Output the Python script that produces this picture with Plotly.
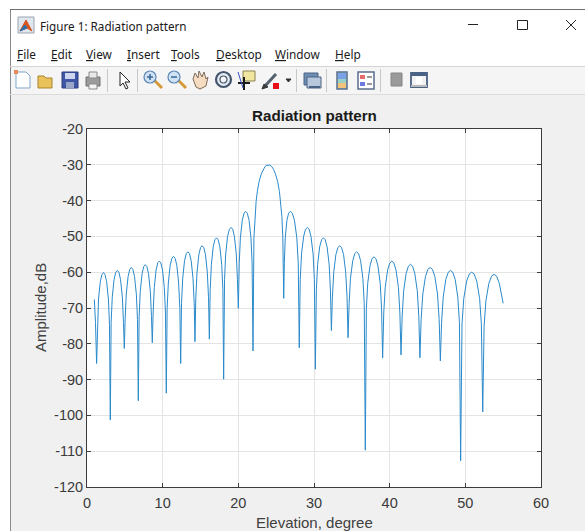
import plotly.graph_objects as go

# ---- data ----
elevation = [
 0.97, 1.12, 1.27,
 1.38,1.52,1.76,1.98,2.18,2.37,2.59,2.83,2.97, 3.08,
 3.19,3.34,3.58,3.80,4.00,4.21,4.43,4.67,4.82, 4.93,
 5.04,5.19,5.43,5.65,5.86,6.06,6.28,6.52,6.67, 6.78,
 6.89,7.04,7.28,7.50,7.70,7.91,8.13,8.37,8.52, 8.63,
 8.74,8.89,9.13,9.35,9.56,9.76,9.98,10.22,10.37, 10.48,
 10.59,10.75,10.99,11.22,11.43,11.64,11.87,12.11,12.27, 12.38,
 12.49,12.65,12.89,13.12,13.33,13.54,13.77,14.01,14.17, 14.27,
 14.38,14.54,14.78,15.01,15.22,15.43,15.66,15.90,16.06, 16.17,
 16.28,16.44,16.68,16.91,17.12,17.33,17.56,17.80,17.96, 18.06,
 18.18,18.33,18.58,18.82,19.05,19.26,19.48,19.73,19.88, 20.00,
 20.12,20.27,20.52,20.76,20.97,21.18,21.42,21.67,21.82, 21.94,
 22.06,22.18,22.35,22.51,22.75,23.04,23.28,23.52,23.77,23.97,24.17,24.42,24.66,24.90,25.19,25.43,25.59,25.76,25.88, 26.00,
 26.08,26.20,26.42,26.65,26.87,27.13,27.42,27.73,27.92, 28.05,
 28.18,28.35,28.63,28.88,29.12,29.35,29.60,29.88,30.05, 30.18,
 30.31,30.48,30.75,31.01,31.24,31.47,31.73,32.00,32.17, 32.30,
 32.43,32.61,32.89,33.16,33.40,33.64,33.91,34.19,34.37, 34.50,
 34.64,34.82,35.12,35.39,35.64,35.89,36.16,36.46,36.64, 36.78,
 36.92,37.10,37.40,37.67,37.93,38.18,38.45,38.75,38.93, 39.07,
 39.22,39.41,39.73,40.02,40.29,40.55,40.84,41.16,41.35, 41.50,
 41.65,41.85,42.18,42.48,42.75,43.02,43.32,43.65,43.85, 44.00,
 44.16,44.38,44.73,45.05,45.35,45.65,45.97,46.32,46.54, 46.70,
 46.86,47.08,47.42,47.75,48.04,48.33,48.66,49.00,49.22, 49.38,
 49.56,49.79,50.17,50.52,50.84,51.16,51.51,51.89,52.12, 52.30,
 52.48,52.72,53.11,53.47,53.80,54.13,54.49,54.80,55.00,
]
amplitude_db = [
 -67.6, -74.0, -85.5,
 -74.6,-67.5,-62.6,-60.6,-60.1,-60.6,-62.6,-67.5,-74.6, -101.3,
 -74.0,-66.9,-62.0,-60.0,-59.5,-60.0,-62.0,-66.9,-74.0, -81.3,
 -73.2,-66.1,-61.2,-59.2,-58.7,-59.2,-61.2,-66.1,-73.2, -95.9,
 -72.4,-65.3,-60.4,-58.4,-57.9,-58.4,-60.4,-65.3,-72.4, -79.7,
 -71.4,-64.3,-59.4,-57.4,-56.9,-57.4,-59.4,-64.3,-71.4, -93.8,
 -70.1,-63.0,-58.1,-56.1,-55.6,-56.1,-58.1,-63.0,-70.1, -85.5,
 -68.8,-61.7,-56.8,-54.8,-54.3,-54.8,-56.8,-61.7,-68.8, -79.4,
 -67.1,-60.0,-55.1,-53.1,-52.6,-53.1,-55.1,-60.0,-67.1, -78.7,
 -64.9,-57.8,-52.9,-50.9,-50.4,-50.9,-52.9,-57.8,-64.9, -89.9,
 -62.0,-54.9,-50.0,-48.0,-47.5,-48.0,-50.0,-54.9,-62.0, -70.1,
 -57.5,-50.4,-45.5,-43.5,-43.0,-43.5,-45.5,-50.4,-57.5, -82.0,
 -50.5,-44.5,-40.2,-37.4,-34.6,-32.5,-31.3,-30.5,-30.1,-30.0,-30.1,-30.5,-31.3,-32.5,-34.6,-37.4,-40.2,-44.5,-50.5, -67.3,
 -57.5,-50.4,-45.5,-43.5,-43.0,-43.5,-45.5,-50.4,-57.5, -81.1,
 -62.0,-54.9,-50.0,-48.0,-47.5,-48.0,-50.0,-54.9,-62.0, -87.1,
 -64.9,-57.8,-52.9,-50.9,-50.4,-50.9,-52.9,-57.8,-64.9, -76.3,
 -67.1,-60.0,-55.1,-53.1,-52.6,-53.1,-55.1,-60.0,-67.1, -78.3,
 -68.8,-61.7,-56.8,-54.8,-54.3,-54.8,-56.8,-61.7,-68.8, -109.7,
 -70.2,-63.1,-58.2,-56.2,-55.7,-56.2,-58.2,-63.1,-70.2, -84.0,
 -71.4,-64.3,-59.4,-57.4,-56.9,-57.4,-59.4,-64.3,-71.4, -83.1,
 -72.3,-65.2,-60.3,-58.3,-57.8,-58.3,-60.3,-65.2,-72.3, -83.9,
 -73.2,-66.1,-61.2,-59.2,-58.7,-59.2,-61.2,-66.1,-73.2, -84.8,
 -74.0,-66.9,-62.0,-60.0,-59.5,-60.0,-62.0,-66.9,-74.0, -112.7,
 -74.5,-67.4,-62.5,-60.5,-60.0,-60.5,-62.5,-67.4,-74.5, -99.0,
 -75.1,-68.0,-63.1,-61.1,-60.6,-61.1,-63.1,-66.0,-68.7,
]
x_ticks = [0, 10, 20, 30, 40, 50, 60]
y_ticks = [-20, -30, -40, -50, -60, -70, -80, -90, -100, -110, -120]
menu_items = ["File", "Edit", "View", "Insert", "Tools", "Desktop", "Window", "Help"]
menu_left = [17, 51, 86, 127, 171, 216, 275, 335]
window_title = "Figure 1: Radiation pattern"

# ---- plot-box geometry, used only to place the window chrome ----
W, H = 585, 531
L, R, T, B = 87, 541, 129, 487
def px(x): return (x - L) / (R - L)
def py(y): return (B - y) / (B - T)

shapes, notes = [], []
def rect(x0, y0, x1, y1, fill, line=None, lw=1, layer="above"):
    shapes.append(dict(type="rect", xref="paper", yref="paper", layer=layer,
                       x0=px(x0), x1=px(x1), y0=py(y1), y1=py(y0), fillcolor=fill,
                       line=dict(color=line or fill, width=lw if line else 0)))
def seg(x0, y0, x1, y1, color, lw=1, layer="above"):
    shapes.append(dict(type="line", xref="paper", yref="paper", layer=layer,
                       x0=px(x0), x1=px(x1), y0=py(y0), y1=py(y1), line=dict(color=color, width=lw)))
def circ(x0, y0, x1, y1, fill, line=None, lw=1):
    shapes.append(dict(type="circle", xref="paper", yref="paper",
                       x0=px(x0), x1=px(x1), y0=py(y1), y1=py(y0), fillcolor=fill,
                       line=dict(color=line or fill, width=lw)))
def poly(points, fill, line=None, lw=1):
    d = "M " + " L ".join(f"{px(a):.5f},{py(b):.5f}" for a, b in points) + " Z"
    shapes.append(dict(type="path", path=d, xref="paper", yref="paper", fillcolor=fill,
                       line=dict(color=line or fill, width=lw)))
def text(x, y, s, size, color="#1a1a1a", family="Noto Sans", anchor="left", **kw):
    notes.append(dict(x=px(x), y=py(y), xref="paper", yref="paper", text=s, showarrow=False,
                      xanchor=anchor, yanchor="middle", borderpad=0, borderwidth=0,
                      font=dict(size=size, color=color, family=family), **kw))

# window bands
rect(-2, -2, W + 2, 10, "#ffffff", layer="below")
rect(-2, -2, 10, H + 2, "#ffffff", layer="below")
rect(10, 10, W + 2, 66, "#ffffff", layer="below")
rect(10, 66, W + 2, 94, "#f5f5f5", layer="below")
seg(10, 9.5, W + 2, 9.5, "#6e6e6e", 1, "below")
seg(10.5, 10, 10.5, H + 2, "#8a8a8a", 1, "below")
seg(10, 66.5, W + 2, 66.5, "#d4d4d4", 1, "below")
seg(10, 94.5, W + 2, 94.5, "#dcdcdc", 1, "below")

# title bar
rect(18, 17, 34, 33, "#dfe6ee", "#9aa5b1")
poly([(20, 31), (26, 20), (32, 31), (27, 28)], "#d9541e")
poly([(20, 31), (25, 25), (27, 28)], "#2a6fb0")
text(40, 26, window_title, 11.7)
seg(468, 24.5, 478, 24.5, "#222222", 1)
rect(517.5, 20.5, 527.5, 29.5, "rgba(0,0,0,0)", "#222222", 1)
seg(566, 20, 576, 30, "#222222", 1)
seg(576, 20, 566, 30, "#222222", 1)

# menu
for name, x0 in zip(menu_items, menu_left):
    text(x0, 54, f"<span style='text-decoration:underline'>{name[0]}</span>{name[1:]}", 11.8)

# toolbar separators
for xs in (107, 137, 296, 326, 380):
    seg(xs + 0.5, 69, xs + 0.5, 92, "#c8c8c8", 1)

# new / open / save / print
poly([(16, 72), (26, 72), (30, 76), (30, 88), (16, 88)], "#ffffff", "#7fa7c9")
rect(14, 70, 18, 74, "#e98a5a")
poly([(38, 76), (44, 76), (46, 78), (52, 78), (52, 88), (38, 88)], "#e9c25c", "#a8852e")
rect(62, 72, 78, 88, "#3f55a6", "#2c3d80")
rect(65, 73, 75, 79, "#cdd6ee")
rect(66, 82, 74, 88, "#9aa6c8")
rect(86, 77, 100, 86, "#9b9b9b", "#707070")
rect(89, 72, 97, 78, "#e8e8e8", "#8a8a8a")
rect(89, 84, 97, 89, "#f4f4f4", "#8a8a8a")
# pointer
poly([(120, 72), (120, 86), (123, 83), (126, 89), (128, 88), (125, 82), (130, 82)], "#ffffff", "#222222")
# zoom in / out
for cx, sign in ((150, "+"), (174, "-")):
    seg(cx + 4, 80, cx + 12, 88, "#d69a3a", 3)
    circ(cx - 6, 71, cx + 6, 83, "#cfe3f4", "#5b86b5", 1.2)
    seg(cx - 3, 77, cx + 3, 77, "#37669a", 1.5)
    if sign == "+":
        seg(cx, 74, cx, 80, "#37669a", 1.5)
# hand
poly([(193, 79), (195, 73), (198, 78), (199, 71), (202, 77), (204, 72), (206, 79), (208, 77),
      (206, 86), (200, 89), (196, 87)], "#f6dcc0", "#7f6a5a")
# rotate
circ(216, 72, 231, 87, "#e6ebf1", "#44566e", 2.2)
circ(220, 76, 227, 83, "#f5f5f5", "#44566e", 1.2)
# data cursor
rect(243, 71, 255, 81, "#f1e6a0", "#8c8350")
seg(238, 83, 250, 83, "#1a1a1a", 2)
seg(244, 77, 244, 90, "#1a1a1a", 2)
seg(238, 72, 243, 88, "#3a4fc0", 1)
# brush
seg(265, 86, 276, 74, "#55606e", 3)
rect(273, 83, 279, 89, "#e8101a")
poly([(262, 89), (264, 84), (268, 87)], "#3a3a3a")
poly([(286, 79), (291, 79), (288.5, 82)], "#333333")
# link plot
rect(304, 73, 318, 85, "#6d8db2", "#4a6283")
rect(307, 77, 321, 88, "#b7c8dc", "#4a6283")
seg(309, 87, 320, 87, "#4a6283", 2)
# colorbar
rect(337, 72, 347, 89, "#9ad1c6", "#5a6e8c", 1.5)
rect(338, 73, 346, 79, "#7aa0e6")
rect(338, 83, 346, 88, "#f2c17a")
# legend
rect(358, 72, 374, 89, "#ffffff", "#5a6e8c", 1.5)
rect(360, 75, 365, 79, "#e86a6a")
rect(360, 82, 365, 86, "#6a78e0")
seg(367, 77, 372, 77, "#555555", 1.2)
seg(367, 84, 372, 84, "#555555", 1.2)
# hide plot tools / dock
rect(391, 73, 402, 86, "#9a9a9a", "#858585")
rect(411, 73, 427, 87, "#f2f2f2", "#4a6283", 1.8)
rect(411, 73, 427, 76, "#4a6283")
rect(416, 77, 422, 84, "#ffffff")
rect(411, 85, 427, 87, "#b9b9b9")

# plot texts placed directly
text(314, 116, "<b>Radiation pattern</b>", 15.2, "#1a1a1a", "Liberation Sans", "center")
text(314, 522, "Elevation, degree", 15, "#404040", "Liberation Sans", "center")
text(40, 308, "Amplitude,dB", 15, "#404040", "Liberation Sans", "center", textangle=-90)

AXFONT = dict(family="Liberation Sans", size=14.5, color="#3a3a3a")
fig = go.Figure(go.Scatter(x=elevation, y=amplitude_db, mode="lines",
                           line=dict(color="#2a8acb", width=1), hoverinfo="skip"))
common = dict(showgrid=True, gridcolor="#e4e4e4", gridwidth=1, zeroline=False, showline=True,
              linecolor="#3c3c3c", linewidth=1, ticks="inside", ticklen=4, tickwidth=1,
              tickcolor="#3c3c3c", mirror="ticks", tickfont=AXFONT, automargin=False)
fig.update_layout(
    width=W, height=H, showlegend=False, autosize=False,
    margin=dict(l=L, r=W - R, t=T, b=H - B, pad=0),
    paper_bgcolor="#f0f0f0", plot_bgcolor="#ffffff",
    shapes=shapes, annotations=notes,
)
fig.update_xaxes(range=[0, 60], tickmode="array", tickvals=x_ticks, ticktext=[str(v) for v in x_ticks],
                 ticklabelstandoff=3, **common)
fig.update_yaxes(range=[-120, -20], tickmode="array", tickvals=y_ticks, ticktext=[str(v) for v in y_ticks], **common)
fig.write_html("out.html", config=dict(displayModeBar=False),
               post_script="document.body.style.margin='0';document.body.style.background='#ffffff';")
